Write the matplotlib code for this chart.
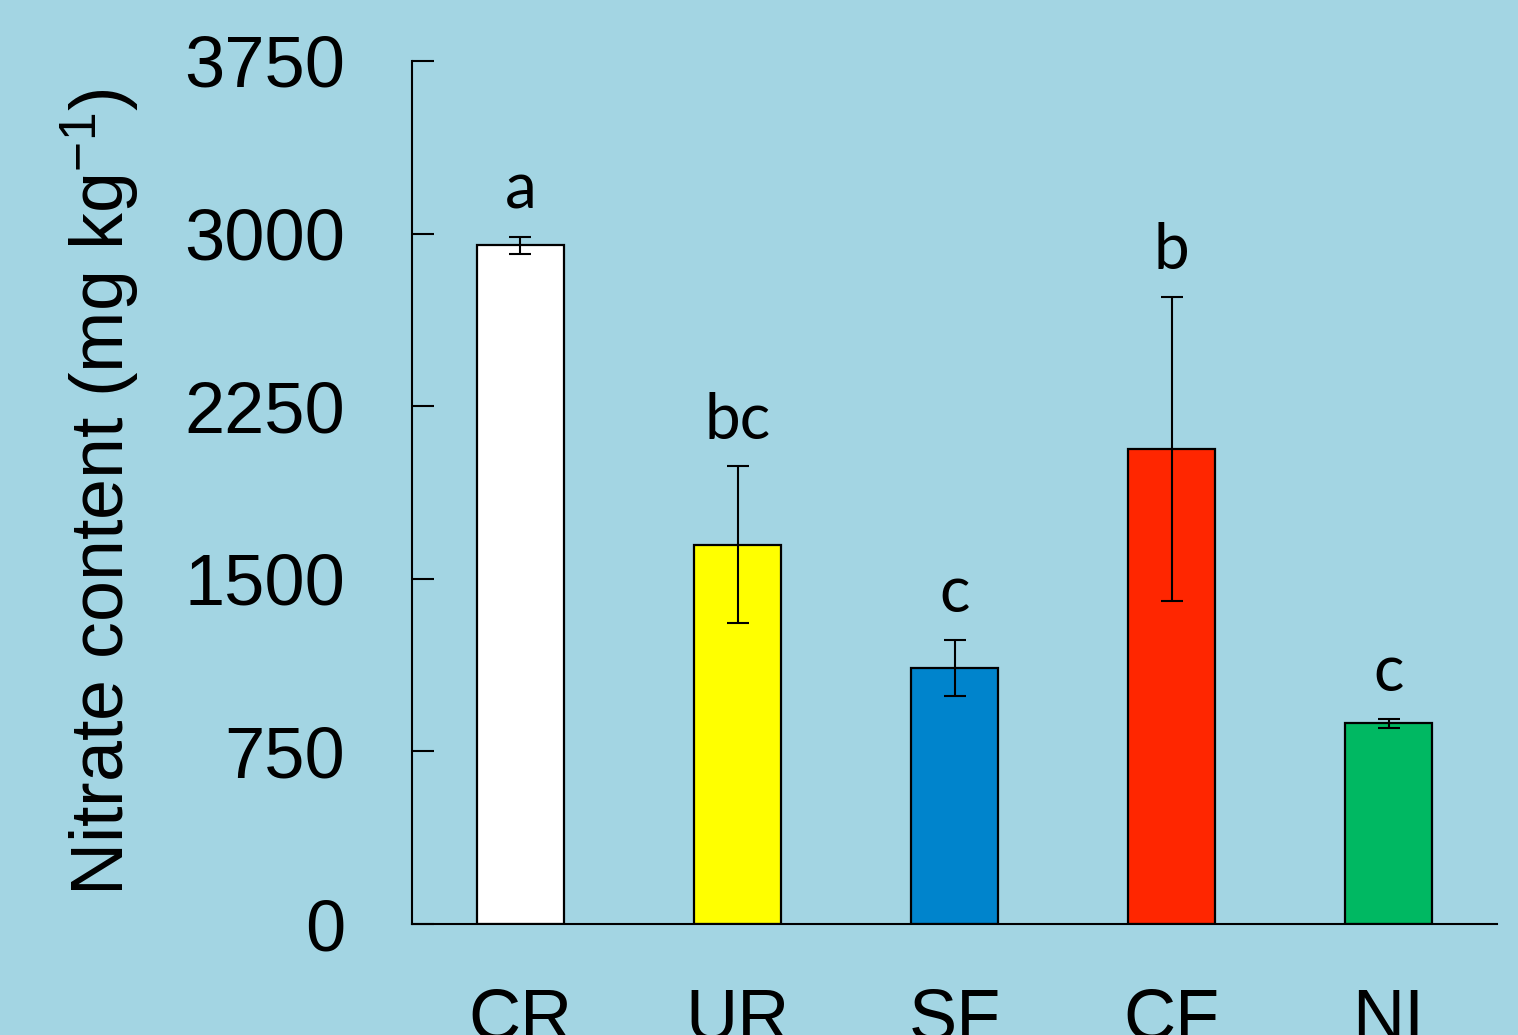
import matplotlib.pyplot as plt

# treatments and nitrate values (mg/kg)
treatments = ["CR", "UR", "SF", "CF", "NI"]
nitrate = [2950, 1647, 1112, 2064, 873]
nitrate_err = [37, 341, 122, 660, 20]
letters = ["a", "bc", "c", "b", "c"]
bar_colors = ["#FFFFFF", "#FFFF00", "#0084CC", "#FF2600", "#00B862"]
yticks = [0, 750, 1500, 2250, 3000, 3750]

bg = "#A3D5E3"
plt.rcParams["mathtext.default"] = "regular"

fig = plt.figure(figsize=(15.18, 10.35), dpi=100, facecolor=bg)
ax = fig.add_axes([0.2714, 0.1072, 0.9862 - 0.2714, 0.9411 - 0.1072])
ax.set_facecolor(bg)

x = range(len(treatments))
ax.bar(x, nitrate, width=0.4, color=bar_colors, edgecolor="black", linewidth=1.6, zorder=2)
ax.errorbar(x, nitrate, yerr=nitrate_err, fmt="none", ecolor="black",
            elinewidth=1.5, capsize=8, capthick=1.5, zorder=3)

# significance letters above the error bars
for i, (v, e, lab) in enumerate(zip(nitrate, nitrate_err, letters)):
    ax.annotate(lab, (i, v + e), xytext=(0, 12), textcoords="offset points",
                ha="center", va="bottom", fontsize=46, family="Lato")

ax.set_xlim(-0.5, 4.5)
ax.set_ylim(0, 3750)
ax.set_yticks(yticks)
ax.set_xticks(list(x))
ax.set_xticklabels(treatments)

for s in ["top", "right"]:
    ax.spines[s].set_visible(False)
for s in ["left", "bottom"]:
    ax.spines[s].set_linewidth(1.5)

ax.tick_params(axis="y", direction="in", length=16, width=1.5, pad=48,
               labelsize=52, labelfontfamily="Liberation Sans")
ax.tick_params(axis="x", length=0, pad=46, labelsize=52,
               labelfontfamily="Liberation Sans")

ax.set_ylabel("Nitrate content (mg kg$^{-1}$)", fontsize=53,
              family="Liberation Sans")
ax.yaxis.set_label_coords(-0.25, 0.5)

fig.savefig("out.png", dpi=100, facecolor=bg)
